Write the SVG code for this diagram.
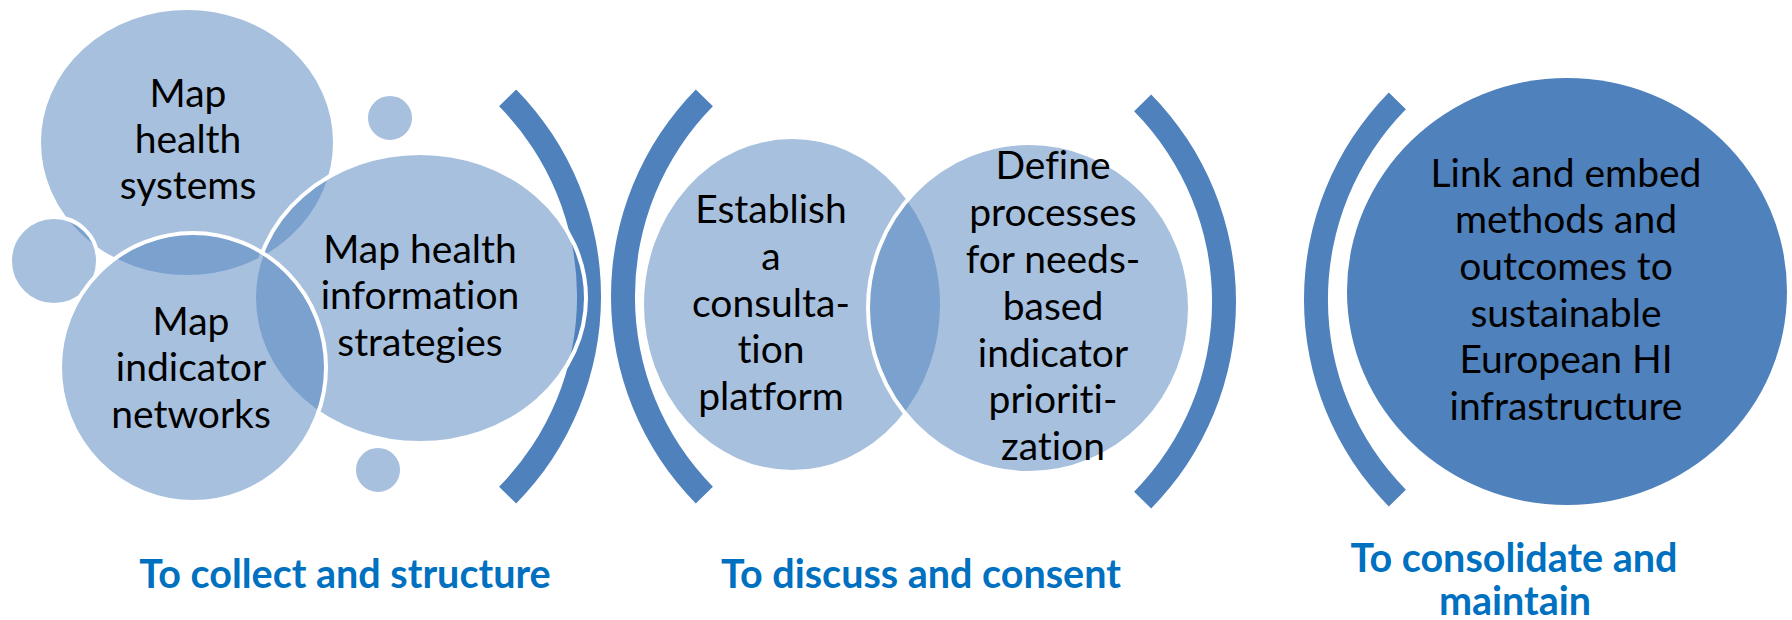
<svg xmlns="http://www.w3.org/2000/svg" width="1792" height="620" viewBox="0 0 1792 620">
<style>
.lt{fill:#4F81BD;fill-opacity:0.5;stroke:#FFFFFF;stroke-width:4}
.dk{fill:#4F81BD}
.br{fill:#4F81BD}
.t{font-family:Lato,"Liberation Sans",sans-serif;font-size:39px;fill:#000000;text-anchor:middle;font-variant-ligatures:none;font-feature-settings:"liga" 0,"clig" 0}
.lb{font-family:Lato,"Liberation Sans",sans-serif;font-size:39.5px;font-weight:bold;fill:#0070C0;text-anchor:middle;font-variant-ligatures:none;font-feature-settings:"liga" 0,"clig" 0}
</style>
<rect x="0" y="0" width="1792" height="620" fill="#FFFFFF"/>
<g id="node-systems">
<ellipse class="lt" cx="187" cy="142.5" rx="148" ry="134.5" stroke="none"/>
<text class="t" x="188" y="107">Map</text>
<text class="t" x="188" y="153">health</text>
<text class="t" x="188" y="199">systems</text>
</g>
<g id="node-dot-left">
<circle class="lt" cx="54" cy="261" r="44"/>
</g>
<g id="brackets">
<path class="br" d="M516.2 89.5 A295 295 0 0 1 516.2 503.5 L499.1 486.7 A271 271 0 0 0 499.1 106.3 Z"/>
<path class="br" d="M695.8 89.5 A295 295 0 0 0 695.8 503.5 L712.9 486.7 A271 271 0 0 1 712.9 106.3 Z"/>
<path class="br" d="M1151.2 94.5 A295 295 0 0 1 1151.2 508.5 L1134.1 491.7 A271 271 0 0 0 1134.1 111.3 Z"/>
<path class="br" d="M1388.8 92.5 A295 295 0 0 0 1388.8 506.5 L1405.9 489.7 A271 271 0 0 1 1405.9 109.3 Z"/>
</g>
<g id="node-strategies">
<ellipse class="lt" cx="420" cy="298" rx="166" ry="145"/>
<text class="t" x="420" y="263">Map health</text>
<text class="t" x="420" y="309">information</text>
<text class="t" x="420" y="356">strategies</text>
</g>
<g id="node-networks">
<ellipse class="lt" cx="193" cy="367.5" rx="133" ry="134.5"/>
<text class="t" x="191" y="335">Map</text>
<text class="t" x="191" y="381">indicator</text>
<text class="t" x="191" y="428">networks</text>
</g>
<g id="node-dot-top">
<circle class="lt" cx="390" cy="118" r="24" stroke="none"/>
</g>
<g id="node-dot-bottom">
<circle class="lt" cx="378" cy="470" r="24" stroke="none"/>
</g>
<g id="node-platform">
<ellipse class="lt" cx="792" cy="304.5" rx="150" ry="167.5" stroke="none"/>
<text class="t" x="771" y="223">Establish</text>
<text class="t" x="771" y="270">a</text>
<text class="t" x="771" y="317">consulta-</text>
<text class="t" x="771" y="363">tion</text>
<text class="t" x="771" y="410">platform</text>
</g>
<g id="node-prioritization">
<ellipse class="lt" cx="1029" cy="308" rx="161" ry="165"/>
<text class="t" x="1053" y="179">Define</text>
<text class="t" x="1053" y="226">processes</text>
<text class="t" x="1053" y="273">for needs-</text>
<text class="t" x="1053" y="320">based</text>
<text class="t" x="1053" y="367">indicator</text>
<text class="t" x="1053" y="413">prioriti-</text>
<text class="t" x="1053" y="460">zation</text>
</g>
<g id="node-infrastructure">
<ellipse class="dk" cx="1567" cy="291.5" rx="220" ry="213.5"/>
<text class="t" x="1566" y="187">Link and embed</text>
<text class="t" x="1566" y="233">methods and</text>
<text class="t" x="1566" y="280">outcomes to</text>
<text class="t" x="1566" y="327">sustainable</text>
<text class="t" x="1566" y="373">European HI</text>
<text class="t" x="1566" y="420">infrastructure</text>
</g>
<g id="labels">
<text class="lb" x="345" y="588">To collect and structure</text>
<text class="lb" x="921" y="588">To discuss and consent</text>
<text class="lb" x="1514" y="572">To consolidate and</text>
<text class="lb" x="1515" y="615">maintain</text>
</g>
</svg>
